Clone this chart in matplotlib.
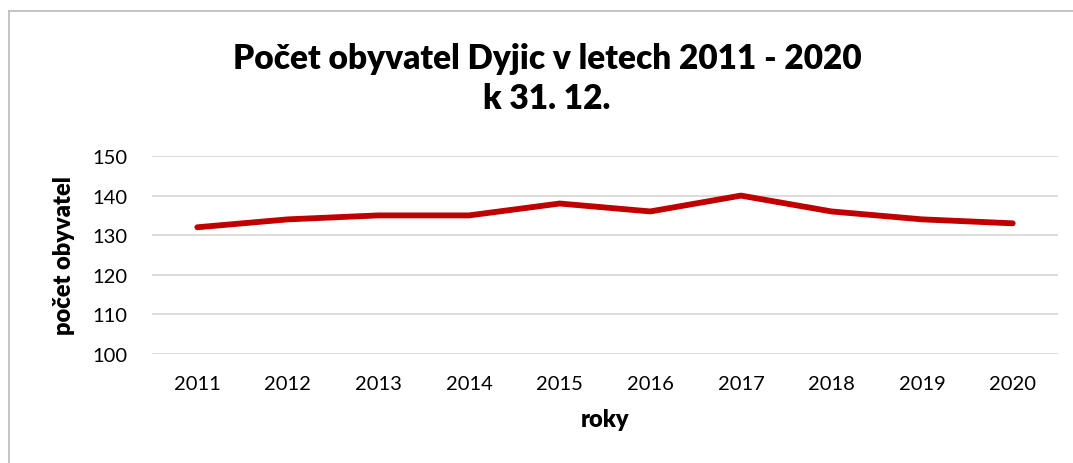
import matplotlib.pyplot as plt
from matplotlib.lines import Line2D

plt.rcParams['font.family'] = ['Lato', 'DejaVu Sans']

# data
roky = ['2011', '2012', '2013', '2014', '2015', '2016', '2017', '2018', '2019', '2020']
obyvatel = [132, 134, 135, 135, 138, 136, 140, 136, 134, 133]
y_ticks = [100, 110, 120, 130, 140, 150]

fig = plt.figure(figsize=(10.73, 4.64), dpi=100)
ax = fig.add_axes([152 / 1073, 1 - 355 / 464, (1058 - 152) / 1073, (355 - 157) / 464])

x = list(range(len(roky)))
ax.plot(x, obyvatel, color='#C00000', lw=4.2, solid_capstyle='round', solid_joinstyle='round', zorder=3)

ax.set_xlim(-0.5, len(roky) - 0.5)
ax.set_ylim(100, 150)
ax.set_yticks(y_ticks)
ax.set_xticks(x)
ax.set_xticklabels(roky)
ax.grid(axis='y', color='#d9d9d9', lw=1.3)
ax.set_axisbelow(True)
for s in ax.spines.values():
    s.set_visible(False)
ax.tick_params(axis='both', length=0, labelsize=14.5, colors='black')
ax.tick_params(axis='y', pad=18)
ax.tick_params(axis='x', pad=15)

ax.set_xlabel('roky', fontsize=17, fontweight='heavy', labelpad=12)
ax.set_ylabel('počet obyvatel', fontsize=17, fontweight='heavy', labelpad=12)

fig.text(547 / 1073, 1 - 79 / 464, 'Počet obyvatel Dyjic v letech 2011 - 2020\nk 31. 12.',
         ha='center', va='center', fontsize=24, fontweight='heavy', linespacing=1.32)

# chart frame (top and left edges visible)
fig.add_artist(Line2D([9 / 1073, 1], [1 - 12 / 464, 1 - 12 / 464], color='#bfbfbf', lw=1.3, transform=fig.transFigure))
fig.add_artist(Line2D([9 / 1073, 9 / 1073], [0, 1 - 12 / 464], color='#bfbfbf', lw=1.3, transform=fig.transFigure))

fig.savefig('out.png', dpi=100)
